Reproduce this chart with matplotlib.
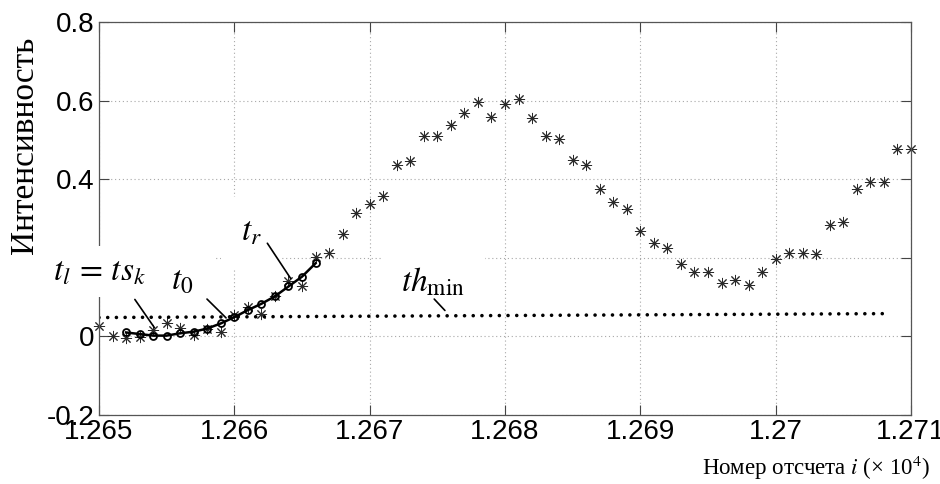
import numpy as np
import matplotlib
matplotlib.use('Agg')
import matplotlib.pyplot as plt

plt.rcParams['mathtext.fontset'] = 'stix'
plt.rcParams['font.family'] = ['Liberation Sans', 'DejaVu Sans']

# sample numbers (x 10^4 on the axis)
first_sample = 12650
# intensity of every sample (asterisks)
intensity = [0.027, 0.000, -0.004, -0.001, 0.016, 0.033, 0.021, 0.004, 0.020, 0.012,
             0.055, 0.074, 0.057, 0.104, 0.142, 0.129, 0.203, 0.212, 0.261, 0.315,
             0.338, 0.357, 0.437, 0.447, 0.511, 0.511, 0.538, 0.568, 0.596, 0.559,
             0.592, 0.604, 0.555, 0.511, 0.502, 0.449, 0.436, 0.376, 0.342, 0.323,
             0.268, 0.238, 0.225, 0.185, 0.163, 0.163, 0.136, 0.144, 0.132, 0.163,
             0.197, 0.212, 0.213, 0.209, 0.283, 0.292, 0.374, 0.392, 0.393, 0.478,
             0.476]

# fitted front (solid line with circles)
front_first = 12652
front = [0.010, 0.006, 0.002, 0.002, 0.008, 0.012, 0.020, 0.033, 0.049, 0.067,
         0.083, 0.102, 0.127, 0.152, 0.186]

# threshold th_min (dotted line)
thr_samples = [12650, 12708.5]
thr_values = [0.048, 0.058]

xticks = [1.265, 1.266, 1.267, 1.268, 1.269, 1.27, 1.271]
xticklabels = ['1.265', '1.266', '1.267', '1.268', '1.269', '1.27', '1.271']
yticks = [-0.2, 0, 0.2, 0.4, 0.6, 0.8]
yticklabels = ['-0.2', '0', '0.2', '0.4', '0.6', '0.8']

samples = (first_sample + np.arange(len(intensity))) / 1e4
front_x = (front_first + np.arange(len(front))) / 1e4
thr_x = np.array(thr_samples) / 1e4

fig = plt.figure(figsize=(9.4, 4.84), dpi=100)
ax = fig.add_axes([99 / 940, 1 - 415 / 484, 812 / 940, 393 / 484])
ax.set_axisbelow(True)

ax.plot(samples, intensity, linestyle='none', marker=(8, 2, 0), markersize=8,
        color='#2a2a2a', markeredgewidth=0.7, clip_on=False)
ax.plot(thr_x, thr_values, color='black', linewidth=2.6,
        linestyle=(0, (0.01, 2.4)), dash_capstyle='round')
ax.plot(front_x, front, color='black', linewidth=1.8, marker='o', markersize=5,
        markerfacecolor='none', markeredgewidth=1.3)

ax.set_xlim(1.265, 1.271)
ax.set_ylim(-0.2, 0.8)
ax.set_xticks(xticks)
ax.set_xticklabels(xticklabels)
ax.set_yticks(yticks)
ax.set_yticklabels(yticklabels)
ax.tick_params(direction='in', length=7, width=0.8, color='#444444',
               top=True, right=True, labelsize=20, pad=3)
for s in ax.spines.values():
    s.set_color('#555555')
    s.set_linewidth(0.9)
ax.grid(True, color='#a8a8a8', linestyle=(0, (1, 2.5)), linewidth=0.8)

serif = ['Liberation Serif', 'DejaVu Serif']
box = dict(boxstyle='square,pad=0.3', fc='white', ec='none')
wide_box = dict(boxstyle='square,pad=0.6', fc='white', ec='none')

# labels of the marked points
ax.text(1.265005, 0.165, r'$t_l\,=\,ts_k$', fontsize=24, ha='center', va='center',
        bbox=box, zorder=3)
ax.text(1.265616, 0.142, r'$t_0$', fontsize=24, ha='center', va='center',
        bbox=wide_box, zorder=1.5)
ax.text(1.266127, 0.265, r'$t_r$', fontsize=24, ha='center', va='center',
        bbox=wide_box, zorder=1.5)
ax.text(1.267466, 0.137, r'$th_{\mathrm{min}}$', fontsize=24, ha='center', va='center',
        bbox=wide_box, zorder=1.5)

line = dict(arrowstyle='-', color='black', linewidth=1.2, shrinkA=0, shrinkB=0)
ax.annotate('', xy=(1.265410, 0.022), xytext=(1.265265, 0.094), arrowprops=line)
ax.annotate('', xy=(1.265939, 0.047), xytext=(1.265798, 0.095), arrowprops=line)
ax.annotate('', xy=(1.266417, 0.147), xytext=(1.266244, 0.237), arrowprops=line)
ax.annotate('', xy=(1.267556, 0.066), xytext=(1.267477, 0.095), arrowprops=line)

fig.text(25 / 940, 1 - 145 / 484, 'Интенсивность', rotation=90, ha='center',
         va='center', fontsize=24, family=serif)
fig.text(930 / 940, 2 / 484, r'Номер отсчета $i$ (× 10$^4$)', ha='right', va='bottom',
         fontsize=16.5, family=serif)

fig.savefig('out.png', dpi=100)
